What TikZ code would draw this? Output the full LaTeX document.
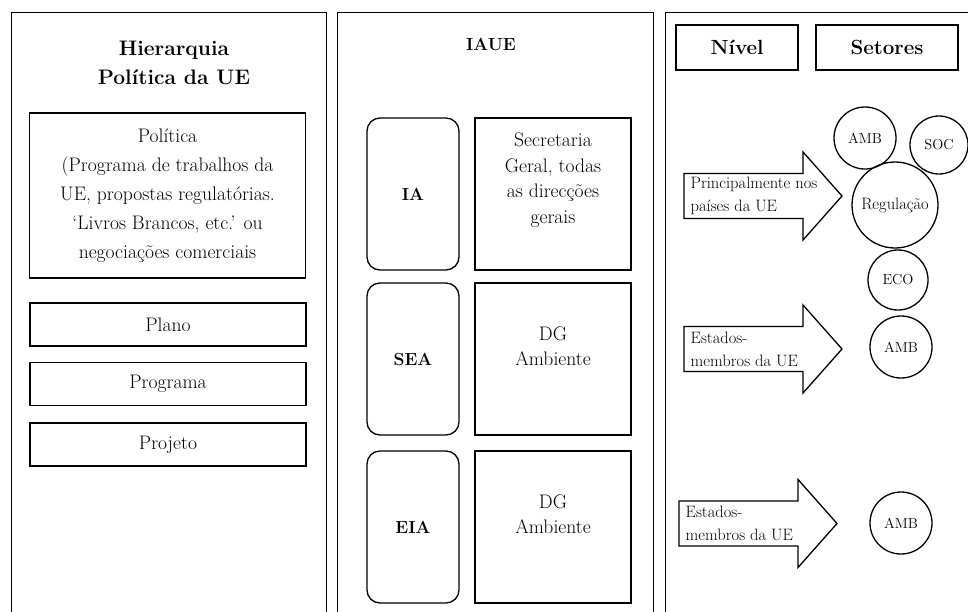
\documentclass[tikz,border=0pt]{standalone}
\usetikzlibrary{positioning}
\begin{document}
\begin{tikzpicture}[x=1pt, y=-1pt, line width=1.3pt,
	panel/.style = {draw, line width=1.4pt, anchor=north west, minimum height=640pt},
	box/.style = {draw, align=center, minimum width=276pt, font=\fontsize{19.6}{29}\selectfont},
	tall/.style = {draw, rounded corners=13pt, minimum width=92pt, minimum height=152pt, font=\bfseries\fontsize{17.5}{20}\selectfont},
	dg/.style = {draw, minimum width=156pt, minimum height=152pt},
	txt/.style = {align=center, font=\fontsize{19.6}{25.5}\selectfont},
	head/.style = {align=center, font=\bfseries\fontsize{21}{29}\selectfont},
	lvl/.style = {draw, minimum height=45pt, font=\bfseries\fontsize{20.5}{24}\selectfont},
	arrowtext/.style = {anchor=west, inner sep=0pt, align=left, font=\fontsize{16.5}{23}\selectfont},
	sector/.style = {draw, circle, inner sep=0pt, minimum size=62pt, font=\fontsize{14.5}{16}\selectfont}]
		\useasboundingbox (0,0) rectangle (968,611);
		\clip (0,0) rectangle (968,611);
		% panels
		\node[panel, minimum width=315pt] (hier) at (11,12) {};
		\node[panel, minimum width=316pt] (iaue) at (337,12) {};
		\node[panel, minimum width=330pt] (lev) at (665,12) {};
		% left panel
		\node[head] (t1) at (174,62.5) {Hierarquia\\Política da UE};
		\node[box, minimum height=165pt] (pol) at (167.5,195.5) {Política\\(Programa de trabalhos da\\UE, propostas regulatórias.\\`Livros Brancos, etc.' ou\\negociações comerciais};
		\node[box, minimum height=43pt] (plano) at (168,324.5) {Plano};
		\node[box, minimum height=43pt] (prog) at (168,384) {Programa};
		\node[box, minimum height=43pt] (proj) at (168,444.5) {Projeto};
		% middle panel
		\node[head, font=\bfseries\fontsize{17.5}{20}\selectfont] (t2) at (491,44) {IAUE};
		\node[tall] (ia) at (413,194) {IA};
		\node[tall] (sea) at (413,359) {SEA};
		\node[tall] (eia) at (413,527) {EIA};
		\node[dg] (sg) at (553,194) {};
		\node[dg] (dg1) at (553,359) {};
		\node[dg] (dg2) at (553,527) {};
		\node[txt] (sgt) at ([yshift=14pt]sg.center) {Secretaria\\Geral, todas\\as direcções\\gerais};
		\node[txt] (dg1t) at ([yshift=13pt]dg1.center) {DG\\Ambiente};
		\node[txt] (dg2t) at ([yshift=13pt]dg2.center) {DG\\Ambiente};
		% right panel
		\node[lvl, minimum width=122pt] (niv) at (737,47.5) {Nível};
		\node[lvl, minimum width=142pt] (set) at (887,47.5) {Setores};
		\coordinate (a1) at (684,196);
		\coordinate (a2) at (684,349);
		\coordinate (a3) at (679,523.5);
		\foreach \a in {a1,a2,a3}
			\draw (\a) -- ++(0,-22.5) -- ++(119,0) -- ++(0,-21.5) -- ++(39,44) -- ++(-39,44) -- ++(0,-21.5) -- ++(-119,0) -- cycle;
		\node[arrowtext] (p1) at ([xshift=6pt]a1) {Principalmente nos\\países da UE};
		\node[arrowtext] (p2) at ([xshift=6pt]a2) {Estados-\\membros da UE};
		\node[arrowtext] (p3) at ([xshift=6pt]a3) {Estados-\\membros da UE};
		\node[sector] (amb) at (865,138) {AMB};
		\node[sector, minimum size=58pt] (soc) at (939,145) {SOC};
		\node[sector, minimum size=86pt, font=\fontsize{16.5}{18}\selectfont] (reg) at (895,205) {Regulação};
		\node[sector, minimum size=60pt] (eco) at (898,280) {ECO};
		\node[sector] (amb2) at (901,347) {AMB};
		\node[sector] (amb3) at (901,523) {AMB};
	\end{tikzpicture}
\end{document}
